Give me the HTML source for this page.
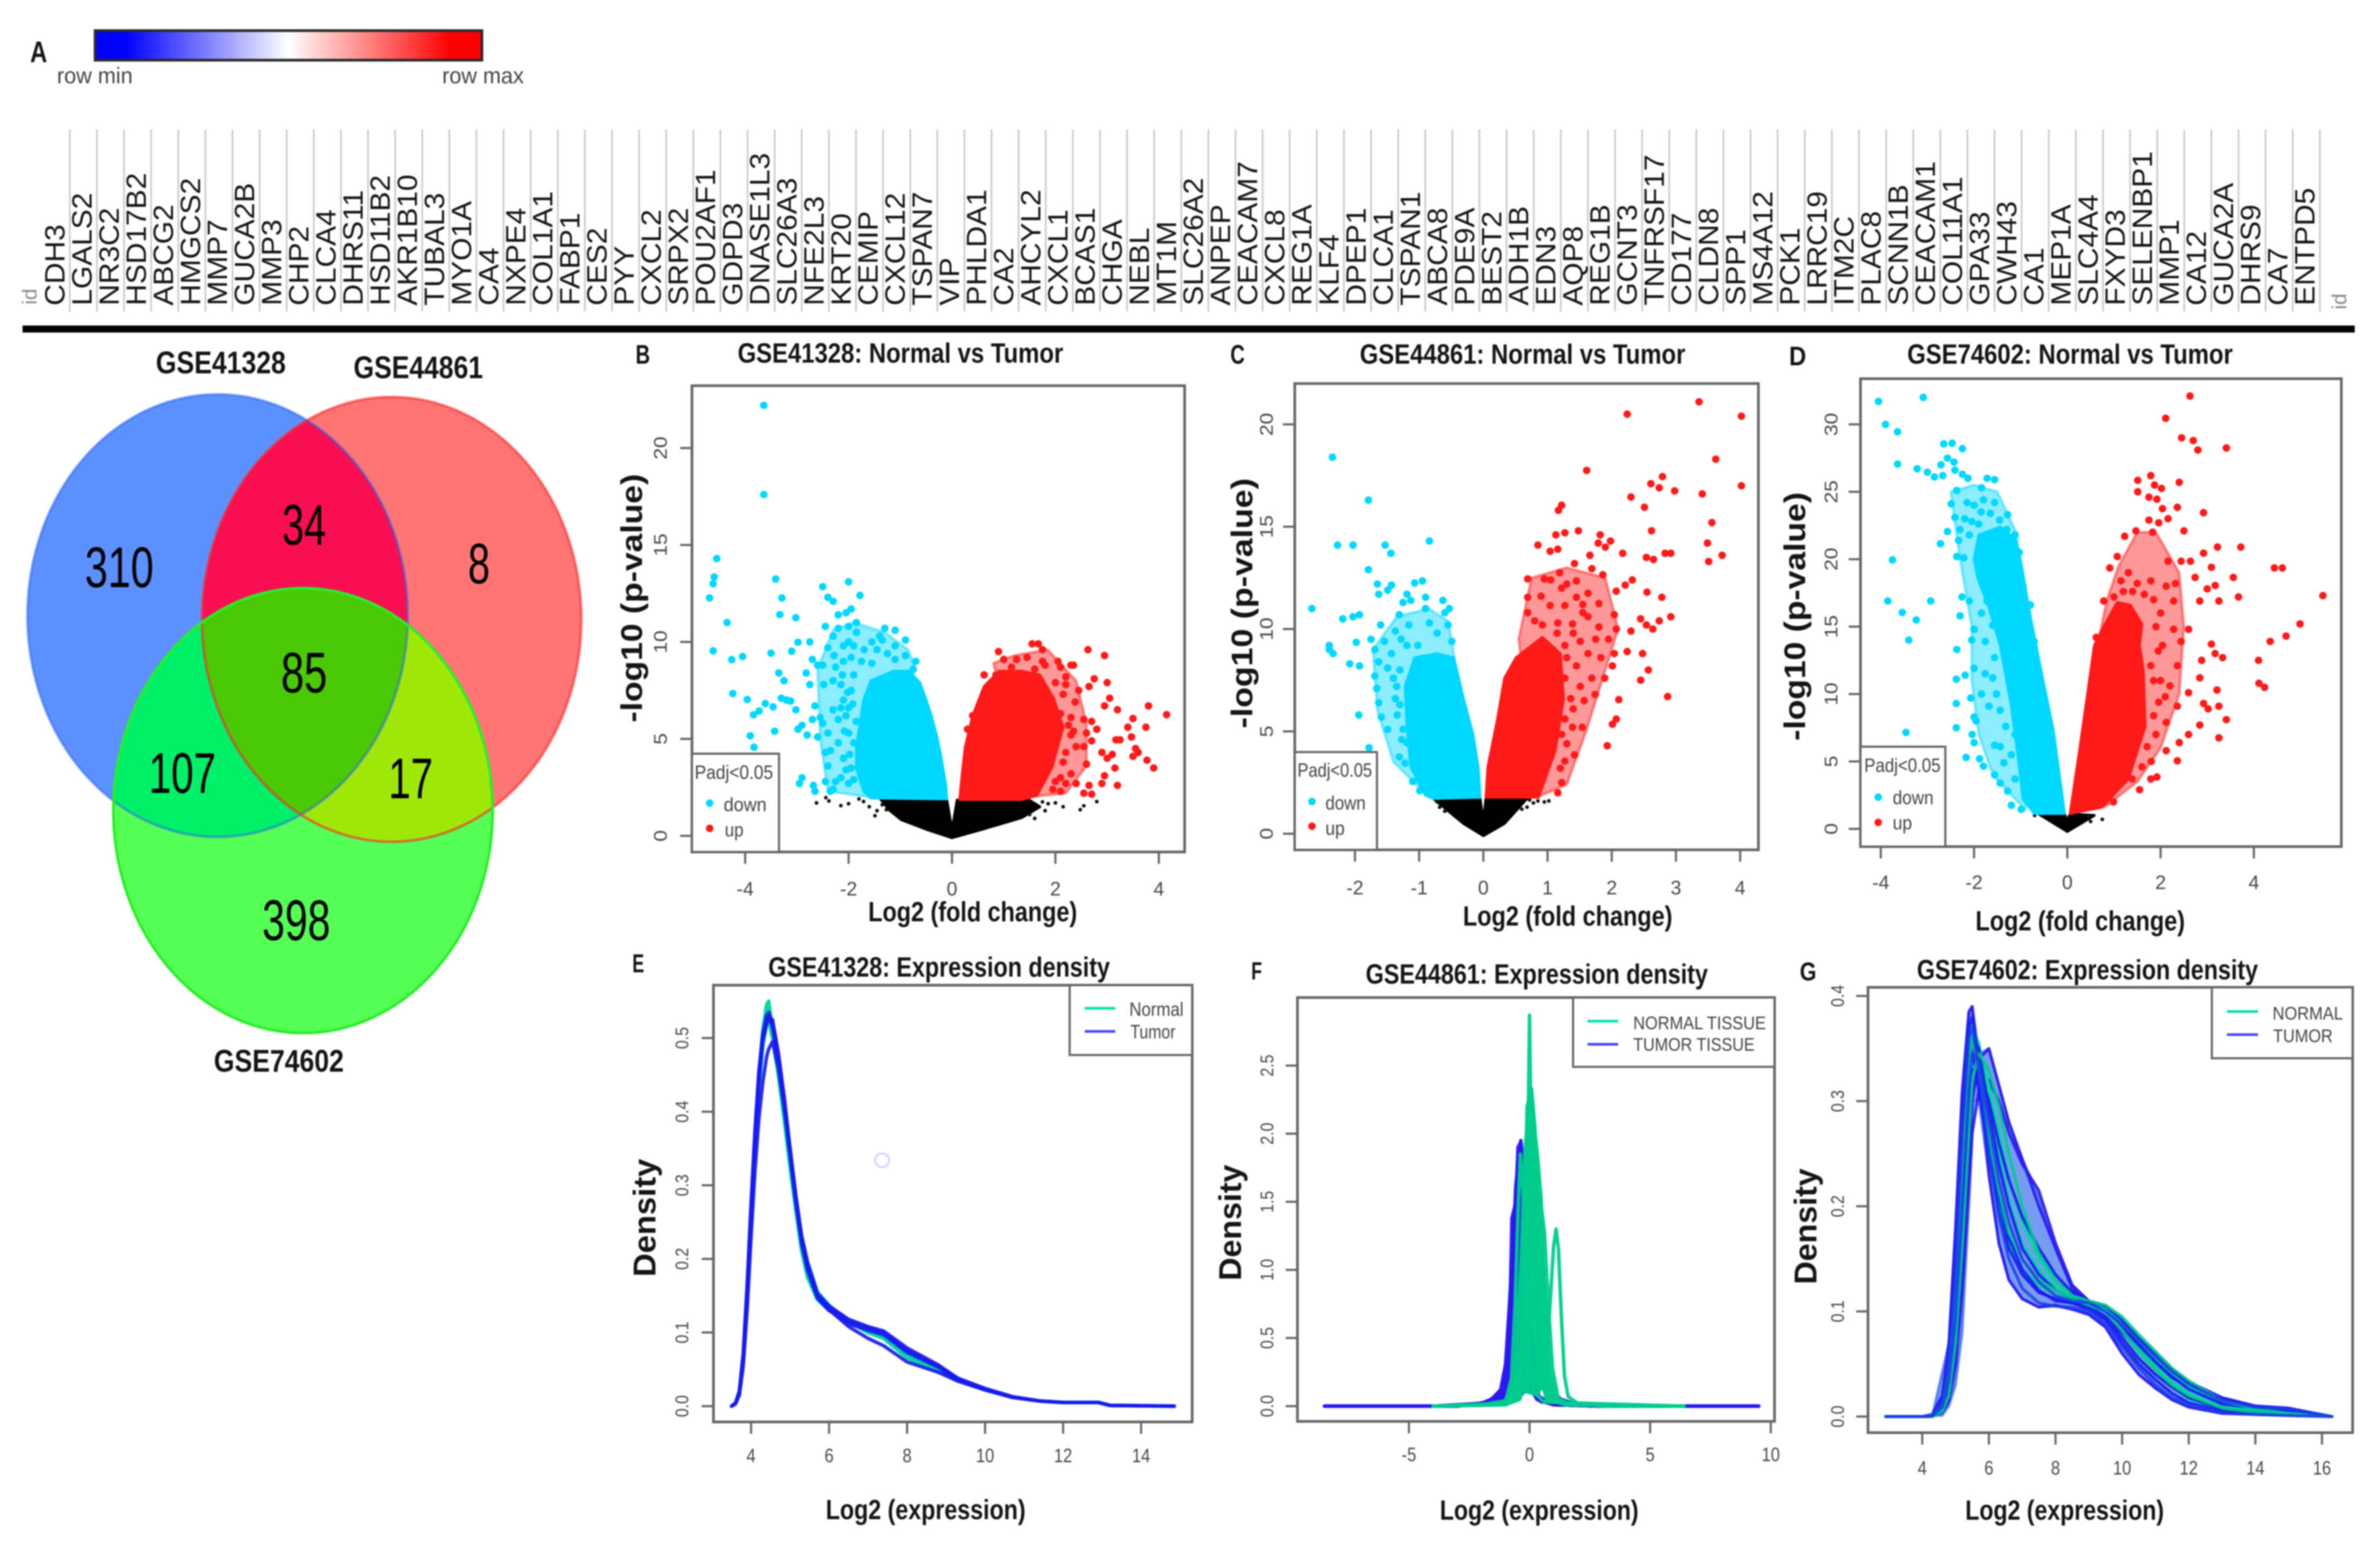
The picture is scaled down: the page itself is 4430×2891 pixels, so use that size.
<!DOCTYPE html>
<html lang="en">
<head>
<meta charset="utf-8">
<title>Differential expression figure: heatmap header, Venn, volcano and density plots</title>
<style>
html,body{margin:0;padding:0;background:#fff;width:4430px;height:2891px;overflow:hidden}
svg{display:block;filter:blur(1.3px)}
text{font-family:"Liberation Sans",sans-serif}
.b{font-weight:bold;fill:#151515}
.tl{fill:#484848;font-size:36px}
.box{fill:none;stroke:#666;stroke-width:5}
.lg{fill:#fff;stroke:#666;stroke-width:4}
</style>
</head>
<body>
<svg id="fig" xmlns="http://www.w3.org/2000/svg" width="4430" height="2891" viewBox="0 0 4430 2891">
<defs>
<linearGradient id="cbGrad" x1="0" x2="1" y1="0" y2="0">
<stop offset="0" stop-color="#0000ff"/><stop offset="0.08" stop-color="#0000ff"/><stop offset="0.5" stop-color="#ffffff"/><stop offset="0.92" stop-color="#ff0000"/><stop offset="1" stop-color="#ff0000"/>
</linearGradient>
<clipPath id="clipBlue"><ellipse cx="405" cy="1146" rx="354" ry="412"/></clipPath>
<clipPath id="clipRed"><ellipse cx="729" cy="1153" rx="353" ry="414"/></clipPath>
<clipPath id="clipGreen"><ellipse cx="564" cy="1509" rx="353" ry="414"/></clipPath>
</defs>
<rect width="4430" height="2891" fill="#fff"/>

<!-- Panel A header -->
<g>
<text class="b" x="56" y="116" font-size="56" textLength="32" lengthAdjust="spacingAndGlyphs">A</text>
<rect x="177" y="57" width="720" height="55" fill="url(#cbGrad)" stroke="#2a2a2a" stroke-width="5"/>
<text x="106" y="155" font-size="42" fill="#444" textLength="141" lengthAdjust="spacingAndGlyphs">row min</text>
<text x="823" y="155" font-size="42" fill="#444" textLength="152" lengthAdjust="spacingAndGlyphs">row max</text>
<g id="geneGrid"></g>
<g id="geneLabels"></g>
<text transform="translate(68,567) rotate(-90)" font-size="38" fill="#888">id</text>
<text transform="translate(4367,576) rotate(-90)" font-size="38" fill="#888">id</text>
<rect x="42" y="606" width="4341" height="13" fill="#000"/>
</g>

<!-- Venn -->
<g>
<ellipse cx="405" cy="1146" rx="354" ry="412" fill="#5c91ff"/>
<ellipse cx="729" cy="1153" rx="353" ry="414" fill="#ff7575"/>
<ellipse cx="564" cy="1509" rx="353" ry="414" fill="#55ff55"/>
<g clip-path="url(#clipBlue)"><ellipse cx="729" cy="1153" rx="353" ry="414" fill="#f90f52"/></g>
<g clip-path="url(#clipBlue)"><ellipse cx="564" cy="1509" rx="353" ry="414" fill="#00f06a"/></g>
<g clip-path="url(#clipRed)"><ellipse cx="564" cy="1509" rx="353" ry="414" fill="#9fe80a"/></g>
<g clip-path="url(#clipBlue)"><g clip-path="url(#clipRed)"><ellipse cx="564" cy="1509" rx="353" ry="414" fill="#4bc806"/></g></g>
<ellipse cx="405" cy="1146" rx="354" ry="412" fill="none" stroke="#2464f0" stroke-width="5" stroke-opacity=".5"/>
<ellipse cx="729" cy="1153" rx="353" ry="414" fill="none" stroke="#ff2828" stroke-width="5" stroke-opacity=".6"/>
<ellipse cx="564" cy="1509" rx="353" ry="414" fill="none" stroke="#28ee28" stroke-width="5"/>
<text x="158" y="1093" font-size="107" textLength="128" lengthAdjust="spacingAndGlyphs">310</text>
<text x="525" y="1014" font-size="107" textLength="82" lengthAdjust="spacingAndGlyphs">34</text>
<text x="871" y="1086" font-size="107" textLength="41" lengthAdjust="spacingAndGlyphs">8</text>
<text x="523" y="1289" font-size="107" textLength="86" lengthAdjust="spacingAndGlyphs">85</text>
<text x="277" y="1476" font-size="107" textLength="125" lengthAdjust="spacingAndGlyphs">107</text>
<text x="723" y="1486" font-size="107" textLength="83" lengthAdjust="spacingAndGlyphs">17</text>
<text x="488" y="1750" font-size="107" textLength="127" lengthAdjust="spacingAndGlyphs">398</text>
<text class="b" x="290" y="695" font-size="58" textLength="242" lengthAdjust="spacingAndGlyphs">GSE41328</text>
<text class="b" x="658" y="704" font-size="58" textLength="241" lengthAdjust="spacingAndGlyphs">GSE44861</text>
<text class="b" x="398" y="1995" font-size="58" textLength="242" lengthAdjust="spacingAndGlyphs">GSE74602</text>
</g>

<!-- Panel B -->
<g>
<text class="b" x="1183" y="677" font-size="50" textLength="27" lengthAdjust="spacingAndGlyphs">B</text>
<text class="b" x="1373" y="675" font-size="52" textLength="606" lengthAdjust="spacingAndGlyphs">GSE41328: Normal vs Tumor</text>
<g id="bMarks"></g>
<rect class="box" x="1288" y="718" width="917" height="868"/>
<g id="bAxes"></g>
<text class="b" x="1616" y="1715" font-size="52" textLength="389" lengthAdjust="spacingAndGlyphs">Log2 (fold change)</text>
<text class="b" transform="translate(1195,1345) rotate(-90)" font-size="56" textLength="463" lengthAdjust="spacingAndGlyphs">-log10 (p-value)</text>
<g>
<rect class="lg" x="1288" y="1403" width="162" height="183"/>
<text x="1293" y="1450" font-size="36" fill="#444" textLength="146" lengthAdjust="spacingAndGlyphs">Padj&lt;0.05</text>
<circle cx="1321" cy="1495" r="7" fill="#00d8ff"/>
<text x="1347" y="1510" font-size="36" fill="#444" textLength="80" lengthAdjust="spacingAndGlyphs">down</text>
<circle cx="1321" cy="1542" r="7" fill="#ff1a1a"/>
<text x="1349" y="1557" font-size="36" fill="#444" textLength="35" lengthAdjust="spacingAndGlyphs">up</text>
</g>
</g>

<!-- Panel C -->
<g>
<text class="b" x="2290" y="677" font-size="50" textLength="27" lengthAdjust="spacingAndGlyphs">C</text>
<text class="b" x="2531" y="677" font-size="52" textLength="606" lengthAdjust="spacingAndGlyphs">GSE44861: Normal vs Tumor</text>
<g id="cMarks"></g>
<rect class="box" x="2410" y="714" width="863" height="868"/>
<g id="cAxes"></g>
<text class="b" x="2723" y="1723" font-size="52" textLength="390" lengthAdjust="spacingAndGlyphs">Log2 (fold change)</text>
<text class="b" transform="translate(2331,1356) rotate(-90)" font-size="56" textLength="466" lengthAdjust="spacingAndGlyphs">-log10 (p-value)</text>
<g>
<rect class="lg" x="2410" y="1400" width="153" height="182"/>
<text x="2415" y="1446" font-size="36" fill="#444" textLength="139" lengthAdjust="spacingAndGlyphs">Padj&lt;0.05</text>
<circle cx="2442" cy="1492" r="7" fill="#00d8ff"/>
<text x="2467" y="1507" font-size="36" fill="#444" textLength="75" lengthAdjust="spacingAndGlyphs">down</text>
<circle cx="2442" cy="1538" r="7" fill="#ff1a1a"/>
<text x="2467" y="1554" font-size="36" fill="#444" textLength="36" lengthAdjust="spacingAndGlyphs">up</text>
</g>
</g>

<!-- Panel D -->
<g>
<text class="b" x="3330" y="680" font-size="50" textLength="32" lengthAdjust="spacingAndGlyphs">D</text>
<text class="b" x="3550" y="677" font-size="52" textLength="606" lengthAdjust="spacingAndGlyphs">GSE74602: Normal vs Tumor</text>
<g id="dMarks"></g>
<rect class="box" x="3463" y="705" width="895" height="871"/>
<g id="dAxes"></g>
<text class="b" x="3677" y="1732" font-size="52" textLength="390" lengthAdjust="spacingAndGlyphs">Log2 (fold change)</text>
<text class="b" transform="translate(3360,1379) rotate(-90)" font-size="56" textLength="463" lengthAdjust="spacingAndGlyphs">-log10 (p-value)</text>
<g>
<rect class="lg" x="3463" y="1390" width="158" height="186"/>
<text x="3470" y="1437" font-size="36" fill="#444" textLength="142" lengthAdjust="spacingAndGlyphs">Padj&lt;0.05</text>
<circle cx="3496" cy="1484" r="7" fill="#00d8ff"/>
<text x="3523" y="1497" font-size="36" fill="#444" textLength="76" lengthAdjust="spacingAndGlyphs">down</text>
<circle cx="3496" cy="1531" r="7" fill="#ff1a1a"/>
<text x="3523" y="1544" font-size="36" fill="#444" textLength="36" lengthAdjust="spacingAndGlyphs">up</text>
</g>
</g>

<!-- Panel E -->
<g>
<text class="b" x="1177" y="1810" font-size="48" textLength="22" lengthAdjust="spacingAndGlyphs">E</text>
<text class="b" x="1430" y="1818" font-size="52" textLength="636" lengthAdjust="spacingAndGlyphs">GSE41328: Expression density</text>
<g id="eMarks"></g>
<circle cx="1642" cy="2160" r="13" fill="none" stroke="#ccccff" stroke-width="3"/>
<rect class="box" x="1328" y="1834" width="891" height="813"/>
<g id="eAxes"></g>
<text class="b" x="1537" y="2828" font-size="52" textLength="372" lengthAdjust="spacingAndGlyphs">Log2 (expression)</text>
<text class="b" transform="translate(1220,2377) rotate(-90)" font-size="58" textLength="220" lengthAdjust="spacingAndGlyphs">Density</text>
<g>
<rect class="lg" x="1991" y="1834" width="228" height="130"/>
<line x1="2019" x2="2076" y1="1877" y2="1877" stroke="#00e4a8" stroke-width="5"/>
<text x="2102" y="1891" font-size="36" fill="#444" textLength="101" lengthAdjust="spacingAndGlyphs">Normal</text>
<line x1="2019" x2="2076" y1="1920" y2="1920" stroke="#4a4aff" stroke-width="5"/>
<text x="2104" y="1933" font-size="36" fill="#444" textLength="84" lengthAdjust="spacingAndGlyphs">Tumor</text>
</g>
</g>

<!-- Panel F -->
<g>
<text class="b" x="2329" y="1823" font-size="46" textLength="20" lengthAdjust="spacingAndGlyphs">F</text>
<text class="b" x="2542" y="1831" font-size="52" textLength="637" lengthAdjust="spacingAndGlyphs">GSE44861: Expression density</text>
<g id="fMarks"></g>
<rect class="box" x="2415" y="1857" width="888" height="789"/>
<g id="fAxes"></g>
<text class="b" x="2680" y="2829" font-size="52" textLength="370" lengthAdjust="spacingAndGlyphs">Log2 (expression)</text>
<text class="b" transform="translate(2310,2384) rotate(-90)" font-size="58" textLength="216" lengthAdjust="spacingAndGlyphs">Density</text>
<g>
<rect class="lg" x="2928" y="1857" width="375" height="129" fill="#fff"/>
<line x1="2955" x2="3012" y1="1901" y2="1901" stroke="#00e4a8" stroke-width="5"/>
<text x="3040" y="1916" font-size="34" fill="#444" textLength="247" lengthAdjust="spacingAndGlyphs">NORMAL TISSUE</text>
<line x1="2955" x2="3012" y1="1944" y2="1944" stroke="#4a4aff" stroke-width="5"/>
<text x="3040" y="1956" font-size="34" fill="#444" textLength="226" lengthAdjust="spacingAndGlyphs">TUMOR TISSUE</text>
</g>
</g>

<!-- Panel G -->
<g>
<text class="b" x="3350" y="1825" font-size="48" textLength="31" lengthAdjust="spacingAndGlyphs">G</text>
<text class="b" x="3568" y="1823" font-size="52" textLength="635" lengthAdjust="spacingAndGlyphs">GSE74602: Expression density</text>
<g id="gMarks"></g>
<rect class="box" x="3477" y="1838" width="902" height="829"/>
<g id="gAxes"></g>
<text class="b" x="3658" y="2829" font-size="52" textLength="370" lengthAdjust="spacingAndGlyphs">Log2 (expression)</text>
<text class="b" transform="translate(3381,2391) rotate(-90)" font-size="58" textLength="216" lengthAdjust="spacingAndGlyphs">Density</text>
<g>
<rect class="lg" x="4117" y="1838" width="262" height="132"/>
<line x1="4145" x2="4203" y1="1883" y2="1883" stroke="#00e4a8" stroke-width="5"/>
<text x="4230" y="1898" font-size="34" fill="#444" textLength="131" lengthAdjust="spacingAndGlyphs">NORMAL</text>
<line x1="4145" x2="4203" y1="1926" y2="1926" stroke="#4a4aff" stroke-width="5"/>
<text x="4231" y="1940" font-size="34" fill="#444" textLength="111" lengthAdjust="spacingAndGlyphs">TUMOR</text>
</g>
</g>
</svg>

<script>
/* ---------- Gene labels ---------- */
const geneNames = ["CDH3","LGALS2","NR3C2","HSD17B2","ABCG2","HMGCS2","MMP7","GUCA2B","MMP3","CHP2","CLCA4","DHRS11","HSD11B2","AKR1B10","TUBAL3","MYO1A","CA4","NXPE4","COL1A1","FABP1","CES2","PYY","CXCL2","SRPX2","POU2AF1","GDPD3","DNASE1L3","SLC26A3","NFE2L3","KRT20","CEMIP","CXCL12","TSPAN7","VIP","PHLDA1","CA2","AHCYL2","CXCL1","BCAS1","CHGA","NEBL","MT1M","SLC26A2","ANPEP","CEACAM7","CXCL8","REG1A","KLF4","DPEP1","CLCA1","TSPAN1","ABCA8","PDE9A","BEST2","ADH1B","EDN3","AQP8","REG1B","GCNT3","TNFRSF17","CD177","CLDN8","SPP1","MS4A12","PCK1","LRRC19","ITM2C","PLAC8","SCNN1B","CEACAM1","COL11A1","GPA33","CWH43","CA1","MEP1A","SLC4A4","FXYD3","SELENBP1","MMP1","CA12","GUCA2A","DHRS9","CA7","ENTPD5"];

/* ---------- Panel B data (log2 fold change, -log10 p) ---------- */
const bXTicks = [-4,-2,0,2,4];
const bYTicks = [0,5,10,15,20];
const bDownCloud = [[-0.1,1.9],[-0.12,2.6],[-0.22,4.2],[-0.3,5.2],[-0.4,6.2],[-0.5,7],[-0.62,7.9],[-0.84,8.5],[-1.13,8.5],[-1.57,8],[-1.71,7],[-1.79,5.6],[-1.85,4.6],[-1.85,3.5],[-1.71,2.3],[-1.57,1.95]];
const bUpCloud = [[0.146,1.87],[0.2,3.3],[0.255,4.57],[0.4,6.2],[0.62,7.7],[0.91,8.5],[1.35,8.5],[1.7,8.3],[1.97,7.07],[2.15,5.6],[1.93,3.5],[1.64,2.08],[1.35,1.87]];
const bNsCloud = [[-1.4,1.95],[-0.1,1.85],[0,0.3],[0.1,1.85],[1.4,2],[1.7,1.5],[1.35,0.94],[0.55,0.31],[0,-0.1],[-0.47,0.31],[-0.98,0.83],[-1.2,1.3]];
const bDownHalo = [[-1.6,2],[-2.4,2.3],[-2.55,5],[-2.6,8.6],[-2.3,10.6],[-1.9,11],[-1.3,10.5],[-0.85,9.6],[-0.7,8.6]];
const bUpHalo = [[1.5,2],[2.2,2.2],[2.6,3.6],[2.6,5.8],[2.4,8],[1.85,9.6],[1.2,9.3],[0.8,8.9]];
const bDownPts = [[-3.64,22.2],[-3.64,17.6],[-4.55,14.3],[-4.6,13.35],[-4.62,13],[-4.69,12.27],[-4.35,11],[-4.62,9.54],[-4.26,9.09],[-4.05,9.25],[-4.24,7.34],[-3.96,7.03],[-3.84,6.24],[-3.73,6.44],[-3.61,6.82],[-3.46,6.65],[-3.9,5.16],[-3.83,4.57],[-3.43,5.4],[-3.41,13.24],[-3.29,12.27],[-3.33,11.41],[-3.02,11.25],[-3.5,9.42],[-3.1,9.52],[-2.98,9.98],[-2.75,10],[-3.35,8.4],[-3.25,8],[-3.3,7.1],[-3.2,7],[-3.12,6.95],[-3.02,6.5],[-2.98,5.5],[-2.9,5.7],[-2.8,5.2],[-2.6,5.1],[-2.7,6],[-2.55,6.1],[-2.5,5.8],[-2.65,6.7],[-2.82,8.4],[-2.75,7.8],[-2.6,8.8],[-2.7,9.1],[-2.5,8.8],[-2.48,7.8],[-2.95,2.7],[-2.9,3],[-2.68,2.6],[-2.65,2.3],[-2.45,2.8],[-2.4,3.6],[-2.35,2.3],[-2.25,2.8],[-2.35,4.4],[-2.45,4.3],[-2.4,5.3],[-2.2,4.8],[-2.2,6],[-2.3,6.5],[-2.1,7],[-2,6.6],[-1.95,7.5],[-2.15,7.8],[-2.3,8],[-2.25,8.7],[-2.1,9],[-1.95,9.2],[-2,10],[-1.85,10.5],[-2.2,10.7],[-2.45,10.8],[-2.4,9.7],[-2.3,10.3],[-2,10.8],[-1.85,11],[-2.05,11.5],[-2.2,11.4],[-2,13.1],[-1.78,12.4],[-2.5,12.85],[-2.4,12.3],[-2.3,12.1],[-1.95,11.7],[-2.1,4],[-2.05,3.4],[-2.15,3],[-2,2.7],[-2.3,2.4],[-1.9,2.9],[-1.9,4.8],[-2,5.3],[-1.85,5.9],[-1.9,8.3],[-1.75,9],[-1.7,9.6],[-1.45,9.6],[-1.55,10],[-1.35,10.1],[-1.3,10.7],[-1.4,10.3],[-1.1,10.6],[-0.9,10.1],[-1.1,9.8],[-1.25,9.4],[-0.9,9.3],[-0.7,9],[-1.55,8.9],[-1.1,9.1],[-0.75,8.6],[-2.05,6.2],[-1.92,6.8],[-1.98,4.2],[-1.95,3.5],[-2.08,5.4],[-2.15,6.6],[-2.02,7.4],[-1.9,9.8],[-2.1,9.8],[-2.28,9.3],[-2.12,8.3]];
const bUpPts = [[4.15,6.25],[3.8,6.7],[3.5,6.05],[3.75,5.6],[3.4,5.6],[3.47,5.1],[3.17,4.95],[3.25,4.95],[3.55,4.5],[3.6,4.3],[3.5,4.1],[3.77,3.9],[3.9,3.5],[3.2,6.5],[3,7.9],[3.05,7.1],[2.95,6.7],[2.75,8.1],[2.65,7.7],[2.95,9.3],[2.63,9.6],[2.35,8.8],[2.2,8.2],[2.45,7.5],[2.38,6.9],[2.55,6],[2.7,5.9],[2.8,5.5],[2.6,5.3],[2.7,4.9],[2.9,4.3],[3,4],[3.1,4.2],[3.15,3.5],[2.95,3.1],[2.9,2.7],[3.2,2.6],[2.65,2.6],[2.55,2.2],[2.7,2.15],[2.4,2.7],[2.3,3.2],[2.6,3.7],[2.4,4.6],[2.55,4.6],[2.3,5.2],[2.2,4.3],[2.15,3.8],[2.1,2.3],[2.3,6.1],[2.1,6.3],[2.15,7.3],[2,7.9],[2.2,7.8],[2.1,8.7],[2.3,8.8],[2.05,9],[1.8,8.8],[1.75,9.6],[1.55,9.9],[1.67,9.9],[1.75,9],[1.45,9.2],[1.25,9.1],[1,9.1],[0.9,9.5],[0.62,8.3],[0.85,8.3],[1.15,8.7],[1.6,8.6],[0.4,6.2],[0.3,5.5],[2.25,5.7],[2.35,5.4],[2.1,3],[2,2.8],[2.2,2.7],[1.95,2.4]];
const bNsPts = [[-2.62,1.7],[-2.44,1.97],[-2.38,1.8],[-2.15,1.56],[-2,1.66],[-1.8,1.9],[-1.71,1.77],[-1.6,1.5],[-1.49,1.04],[-1.45,1.3],[-1.27,1.35],[-1.35,1.6],[1.5,1.1],[1.6,0.9],[1.8,1.3],[1.86,1.66],[1.75,1.75],[2,1.7],[2.15,1.5],[2.48,1.35],[2.8,1.77],[2.55,1.55]];

/* ---------- Panel C data ---------- */
const cXTicks = [-2,-1,0,1,2,3,4];
const cYTicks = [0,5,10,15,20];
const cDownCloud = [[-0.05,1.78],[-0.08,3.26],[-0.16,4.84],[-0.31,6.6],[-0.46,8.6],[-0.72,8.8],[-1.07,8.6],[-1.22,7.2],[-1.19,5.2],[-1.13,3.26],[-0.9,1.88],[-0.78,1.72]];
const cUpCloud = [[0.04,1.78],[0.07,3.26],[0.22,5.6],[0.33,7.6],[0.51,8.6],[0.92,9.6],[1.2,8.8],[1.25,6.6],[1.12,4.05],[0.86,1.78]];
const cNsCloud = [[-0.78,1.72],[-0.05,1.72],[0,0.6],[0.04,1.72],[0.68,1.72],[0.33,0.5],[0,-0.1],[-0.31,0.5]];
const cDownHalo = [[-0.85,1.8],[-1.4,3.5],[-1.65,6],[-1.72,9],[-1.35,10.6],[-0.85,11],[-0.55,10.4],[-0.45,8.6]];
const cUpHalo = [[0.85,1.8],[1.3,2.4],[1.6,5],[1.9,8],[2.1,10],[1.9,12.5],[1.3,13],[0.75,12.5],[0.55,9.5]];
const cDownPts = [[-2.35,18.4],[-1.79,16.3],[-2.27,14.1],[-2.03,14.1],[-1.53,14.1],[-1.44,13.7],[-0.84,14.3],[-1.79,12.9],[-2.67,11],[-2.19,10.5],[-2.03,10.6],[-1.93,10.7],[-2.4,9.2],[-2.4,9],[-2.34,8.8],[-2.08,8.3],[-1.98,9.35],[-1.93,8.2],[-1.94,5.8],[-1.78,4.2],[-1.65,12.2],[-1.63,11.7],[-1.49,11.9],[-1.43,12.15],[-1.19,11.7],[-1.07,12.25],[-0.95,12.35],[-0.9,11.55],[-0.63,11.4],[-0.53,11],[-0.6,10.8],[-0.55,10.2],[-0.9,11],[-1.25,11.3],[-1.13,11.4],[-1.31,10.7],[-1.16,10.2],[-0.84,10.3],[-1.6,10.2],[-1.75,9.5],[-1.69,9],[-1.54,9.4],[-1.37,9.9],[-1.63,8.4],[-1.49,8.1],[-1.43,8.8],[-1.69,7.7],[-1.66,7.1],[-1.63,6.4],[-1.59,5.7],[-1.49,5.1],[-1.37,6.6],[-1.34,5.8],[-1.25,5.1],[-1.19,4.45],[-1.31,3.75],[-1.22,3.45],[-1.1,2.55],[-0.99,2.1],[-1.19,9.2],[-1.02,9.2],[-0.72,9.8],[-0.49,9.4],[-1.3,8],[-1.35,7.2],[-1.28,9.5],[-1.4,7.6],[-1.3,6.3],[-1.27,4.6]];
const cUpPts = [[2.24,20.5],[3.36,21.1],[4.02,20.4],[3.62,18.3],[1.61,17.75],[2.79,17.45],[2.61,17.1],[2.74,16.9],[2.98,16.75],[4.02,17],[3.41,16.6],[2.3,16.45],[2.51,15.95],[3.56,15.2],[2.62,14.8],[3.49,14.2],[3.72,13.6],[3.51,13.3],[2.54,13.5],[2.65,13.4],[2.83,13.7],[2.92,13.7],[2.17,13.7],[1.22,16.05],[1.17,15.8],[1.48,14.8],[1.27,14.7],[1.13,14.6],[0.85,14.1],[1.04,13.8],[1.16,13.9],[1.82,14.6],[1.79,14.2],[1.98,14.3],[1.9,14],[1.66,13.6],[1.42,13.2],[2.32,12.4],[2.55,11.8],[2.78,11.55],[2.92,10.6],[2.45,10.5],[2.54,10.2],[2.64,10],[2.74,10.4],[2.3,9.9],[2.04,10.7],[2.48,8.8],[2.57,8],[2.45,7.5],[2.87,6.7],[2.11,6.55],[2.07,5.6],[2.01,5.35],[1.93,4.3],[2.24,8.9],[2.04,8.8],[2.01,8.2],[1.89,7.6],[1.74,6.8],[1.54,5.2],[1.42,3.85],[1.27,3.55],[1.16,2],[1.22,2.5],[0.69,12.45],[0.69,11.55],[0.95,12.45],[1.19,12.75],[1.22,12],[1.45,12.35],[1.69,12.95],[1.86,12.65],[1.63,11.75],[1.45,11.55],[1.27,11.15],[1.04,11.15],[0.8,10.4],[0.69,10.8],[0.92,10.2],[1.16,10.3],[1.39,10.25],[1.63,10.6],[1.8,11.25],[2.07,11.85],[2.21,12.15],[2.07,10],[1.8,10.1],[1.51,9.4],[1.27,9.2],[1.63,8.8],[1.83,8.6],[1.45,8.2],[1.27,7.6],[1.51,7.2],[1.69,7.6],[1.36,6.6],[1.57,6.5],[1.27,5.6],[1.22,4.85],[1.39,5.2],[1.3,4.4],[1.2,3.2],[1.3,8.6],[1.4,9.8],[1.15,9.8],[1.15,8],[1.2,7],[1.4,6.1],[1.75,9.5],[1.55,10.8],[1.3,12.2],[1.05,12.4],[0.9,11.6],[1.55,11.2],[1.95,9.5]];
const cNsPts = [[-0.72,1.55],[-0.68,1.3],[-0.6,1.1],[0.72,1.65],[0.78,1.5],[0.85,1.6],[0.68,1.3],[0.6,1.2],[0.95,1.55],[1.02,1.6]];

/* ---------- Panel D data ---------- */
const dXTicks = [-4,-2,0,2,4];
const dYTicks = [0,5,10,15,20,25,30];
const dDownCloud = [[-0.06,1.14],[-0.3,7.3],[-0.55,11.5],[-0.79,15.7],[-0.99,19.6],[-1.11,21.4],[-1.44,22.4],[-1.9,21.8],[-2,20],[-1.92,18.6],[-1.68,16.4],[-1.44,13.6],[-1.2,9.1],[-1.03,4.6],[-0.95,2.2],[-0.71,1.14]];
const dUpCloud = [[0.06,1.14],[0.26,5.8],[0.42,9.7],[0.58,13.6],[0.78,15],[1.07,16.8],[1.35,16.6],[1.6,15.2],[1.55,13.6],[1.63,11.8],[1.67,7.6],[1.31,3.7],[0.74,1.6]];
const dNsCloud = [[-0.63,1.14],[-0.06,1.1],[0,0.6],[0.06,1.1],[0.58,1],[0,-0.2]];
const dDownHalo = [[-0.9,1.4],[-1.6,4],[-1.9,7],[-2.05,11],[-2.05,15],[-2.3,20],[-2.5,25],[-2,25.5],[-1.5,25],[-1.1,22],[-0.95,19],[-0.8,15.7],[-0.6,12]];
const dUpHalo = [[0.8,1.6],[1.5,3.5],[2,6],[2.4,10],[2.5,15],[2.4,19],[1.9,22],[1.5,22],[1.1,19.5],[0.85,17],[0.7,14.5]];
const dDownPts = [[-4.05,31.7],[-3.09,32],[-3.9,30],[-3.64,29.45],[-3.64,27.05],[-3.22,26.7],[-3,26.45],[-2.85,26.1],[-2.67,26.2],[-2.71,27],[-2.65,28.55],[-2.47,28.6],[-2.57,27.5],[-2.25,28.2],[-2.43,27.2],[-2.41,26.6],[-2.25,26.3],[-2.13,26],[-1.72,26],[-1.56,25.9],[-2.37,25.1],[-1.84,25.3],[-2.49,24.1],[-2.41,23.1],[-2.57,22.05],[-2.72,21.15],[-2.33,21.4],[-2.37,20.2],[-2.22,20.1],[-3.75,19.95],[-3.85,16.9],[-2.93,16.9],[-3.54,16.05],[-3.24,15.5],[-3.4,14],[-3.46,7.15],[-2.26,17.2],[-2.1,16.9],[-2.3,15.8],[-2,14.8],[-2.05,14],[-2.37,13.3],[-2,11.9],[-2.19,11.4],[-2.38,11.1],[-2.38,9.3],[-2.07,9.7],[-1.84,10],[-2,8.3],[-1.96,8],[-2.38,7.5],[-2.04,7],[-2,6.4],[-2.17,5.3],[-1.88,5.2],[-1.8,4.65],[-1.56,6.2],[-1.56,4],[-1.44,3.4],[-1.28,2.8],[-1.2,1.75],[-0.99,1.45],[-1.76,11.5],[-1.6,11.2],[-1.52,10],[-1.68,9.1],[-1.44,8.8],[-1.32,7.6],[-1.44,6.1],[-1.2,5.5],[-1.12,7],[-1.76,13.9],[-1.6,15.1],[-1.84,16],[-1.72,16.9],[-1.44,17.2],[-1.56,12.7],[-1.28,12.7],[-1.36,4.9],[-1.12,3.7],[-1.8,24.4],[-1.56,24.2],[-1.28,23.3],[-1.12,21.8],[-1.03,20.5],[-0.95,18],[-0.79,16.6],[-0.71,13.9],[-2.15,24.2],[-2,24],[-1.85,23.5],[-1.65,23.4],[-1.45,22.9],[-2.2,23],[-2.05,22.8],[-1.9,22.6],[-2.3,22.2],[-2.1,21.8],[-1.3,22.2]];
const dUpPts = [[2.63,32.1],[2.11,30.45],[2.45,29],[2.7,28.8],[2.8,28.1],[3.41,28.25],[1.51,25.85],[1.79,26.2],[2.4,25.7],[1.87,25.5],[2.02,25.25],[1.51,25],[1.75,24.6],[1.92,24.45],[2.36,23.85],[2.04,23.75],[2.92,23.45],[1.75,22.9],[2.16,23],[1.96,22.7],[2.5,22.1],[1.83,22],[1.47,22.1],[1.23,21.7],[3.22,20.9],[3.72,20.9],[2.92,20.45],[1.07,20.2],[2.16,19.85],[2.64,19.85],[2.44,19.85],[3.09,19.4],[4.44,19.35],[4.61,19.35],[0.91,19.35],[3.56,18.65],[2.74,18.65],[2.32,18.2],[3.17,18.05],[3,17.8],[3.67,17.2],[5.48,17.3],[3.25,16.9],[2.84,16.9],[2.28,16.9],[4.99,15.2],[4.69,14.3],[4.35,13.9],[3.09,13.7],[4.1,12.5],[3.17,13],[3.33,12.7],[2.88,12.5],[4.11,10.8],[4.23,10.5],[3.21,10.3],[2.84,11.2],[2.6,10.1],[2.92,9.3],[3.25,9.1],[3.02,8.9],[3.41,8.1],[2.84,7.7],[3.25,6.75],[2.6,7],[2.36,5.05],[2.4,6.4],[1.92,3.85],[1.79,3.7],[2.12,5.8],[2.12,7.9],[2.36,9.1],[2.2,10.6],[2.36,12.1],[2.44,13.9],[2.28,14.8],[2.6,14.8],[2.04,13.6],[1.79,12.1],[1.96,9.4],[1.71,6.1],[1.39,3.7],[0.99,2],[2.12,18],[2,16],[1.79,18.4],[1.31,19],[1.15,18.4],[0.78,16.9],[0.62,14.2],[1.5,18.2],[1.65,17.4],[1.85,17],[1.4,17.6],[1.2,17.6],[1,17.2],[1.9,15],[1.95,13.2],[1.85,11],[2,11],[2.1,9.8],[1.85,8.4],[1.9,7],[1.8,5],[1.55,2.9],[1.6,4.6]];
const dNsPts = [[0.75,0.7],[0.5,0.55],[0.45,0.9],[-0.55,1.2],[-0.7,1]];

/* ---------- Panel E data (shared x grid, one array per sample) ---------- */
const eXTicks = [4,6,8,10,12,14];
const eYTicks = [0,0.1,0.2,0.3,0.4,0.5];
const eYLabels = ["0.0","0.1","0.2","0.3","0.4","0.5"];
const eX = [3.5,3.6,3.7,3.8,3.9,4,4.1,4.2,4.3,4.4,4.45,4.55,4.7,4.85,5,5.15,5.3,5.45,5.7,6,6.5,7,7.4,8,8.8,9.3,10,10.7,11.4,12,12.9,13.2,14.85];
const eNormalA = [0,0.004,0.02,0.07,0.16,0.27,0.37,0.45,0.51,0.545,0.55,0.51,0.46,0.405,0.34,0.28,0.23,0.195,0.155,0.137,0.115,0.1,0.092,0.066,0.047,0.035,0.022,0.012,0.007,0.005,0.005,0.001,0];
const eNormalB = [0,0.004,0.018,0.065,0.15,0.25,0.35,0.43,0.49,0.52,0.525,0.5,0.45,0.39,0.325,0.265,0.21,0.175,0.145,0.13,0.113,0.103,0.095,0.07,0.05,0.036,0.023,0.012,0.007,0.005,0.005,0.001,0];
const eTumorA = [0,0.004,0.02,0.072,0.165,0.275,0.375,0.455,0.505,0.53,0.53,0.515,0.47,0.41,0.345,0.28,0.225,0.19,0.15,0.133,0.116,0.106,0.1,0.076,0.054,0.037,0.023,0.012,0.007,0.005,0.005,0.001,0];
const eTumorB = [0,0.003,0.015,0.055,0.13,0.23,0.32,0.39,0.44,0.475,0.485,0.495,0.46,0.405,0.34,0.275,0.22,0.185,0.148,0.131,0.108,0.092,0.082,0.06,0.046,0.034,0.022,0.012,0.007,0.005,0.005,0.001,0];
const eTumorC = [0,0.004,0.02,0.07,0.16,0.265,0.365,0.445,0.5,0.53,0.535,0.52,0.475,0.415,0.35,0.285,0.23,0.195,0.153,0.136,0.118,0.108,0.102,0.079,0.056,0.038,0.024,0.013,0.007,0.005,0.005,0.001,0];
const eTumorD = [0,0.004,0.019,0.068,0.155,0.26,0.36,0.44,0.495,0.52,0.525,0.525,0.48,0.42,0.35,0.285,0.225,0.185,0.147,0.13,0.112,0.103,0.097,0.073,0.053,0.036,0.023,0.012,0.007,0.005,0.005,0.001,0];

/* ---------- Panel F data ([expression, density] per sample) ---------- */
const fXTicks = [-5,0,5,10];
const fYTicks = [0,0.5,1,1.5,2,2.5];
const fYLabels = ["0.0","0.5","1.0","1.5","2.0","2.5"];
const fTumorMass = [[-1.3,0.05],[-0.95,0.2],[-0.82,0.75],[-0.75,1.38],[-0.58,1.5],[-0.5,1.9],[-0.35,1.95],[-0.1,1],[0.05,0.15],[-0.5,0.05]];
const fNormalMass = [[-0.45,0.12],[-0.25,0.5],[-0.17,1.7],[-0.12,2.2],[0.08,2.33],[0.22,2.05],[0.34,1.85],[0.5,1.52],[0.62,0.9],[0.75,0.2],[0.3,0.08]];
const fTumorA = [[-8.5,0],[-3,0],[-1.6,0.03],[-1.15,0.13],[-0.95,0.35],[-0.8,0.85],[-0.68,1.25],[-0.58,1.4],[-0.45,1.3],[-0.3,0.9],[-0.15,0.42],[0,0.15],[0.3,0.05],[1,0.01],[3,0],[9.5,0]];
const fTumorB = [[-8.5,0],[-3,0],[-1.5,0.03],[-1.05,0.13],[-0.85,0.4],[-0.7,1.05],[-0.58,1.6],[-0.47,1.8],[-0.35,1.65],[-0.2,1],[-0.05,0.4],[0.2,0.08],[1,0.01],[3,0],[9.5,0]];
const fTumorC = [[-8.5,0],[-3,0],[-1.4,0.03],[-0.95,0.13],[-0.75,0.45],[-0.6,1.15],[-0.48,1.75],[-0.36,1.95],[-0.25,1.75],[-0.1,1.05],[0.05,0.4],[0.3,0.08],[1,0.01],[3,0],[9.5,0]];
const fTumorD = [[-8.5,0],[-3,0],[-1.3,0.03],[-0.85,0.13],[-0.65,0.45],[-0.5,1.05],[-0.38,1.55],[-0.27,1.72],[-0.15,1.5],[0,0.85],[0.15,0.3],[0.4,0.06],[1,0.01],[3,0],[9.5,0]];
const fTumorE = [[-8.5,0],[-3,0],[-1.7,0.03],[-1.2,0.12],[-1,0.3],[-0.85,0.7],[-0.72,1.03],[-0.6,1.12],[-0.48,1],[-0.32,0.65],[-0.15,0.3],[0.05,0.12],[0.4,0.04],[1,0.01],[3,0],[9.5,0]];
const fTumorF = [[-8.5,0],[-3,0],[-1.55,0.03],[-1.1,0.14],[-0.88,0.4],[-0.74,0.95],[-0.62,1.42],[-0.52,1.55],[-0.4,1.42],[-0.25,0.95],[-0.1,0.42],[0.1,0.12],[0.5,0.03],[3,0],[9.5,0]];
const fTumorG = [[-8.5,0],[-4,0],[-2,0.02],[-1.2,0.08],[-0.6,0.22],[-0.3,0.36],[-0.1,0.5],[0,0.56],[0.1,0.5],[0.35,0.3],[0.7,0.15],[1.2,0.05],[2,0.01],[4,0],[9.5,0]];
const fTumorH = [[-8.5,0],[-4,0],[-2,0.02],[-1.2,0.07],[-0.6,0.17],[-0.3,0.27],[-0.05,0.34],[0.1,0.32],[0.4,0.24],[0.8,0.13],[1.3,0.05],[2,0.01],[4,0],[9.5,0]];
const fNormalA = [[-4,0],[-1.5,0.01],[-0.7,0.05],[-0.35,0.3],[-0.15,1.1],[-0.05,2.2],[0,2.87],[0.05,2.2],[0.15,1.1],[0.35,0.3],[0.7,0.05],[1.5,0.01],[6.4,0]];
const fNormalB = [[-4,0],[-1.5,0.01],[-0.8,0.04],[-0.5,0.25],[-0.25,1.1],[-0.08,2.05],[0.08,2.33],[0.22,2.05],[0.4,1.1],[0.62,0.3],[0.9,0.06],[1.5,0.01],[6.4,0]];
const fNormalC = [[-4,0],[-1.3,0.01],[-0.85,0.05],[-0.6,0.3],[-0.35,1.1],[-0.18,1.9],[-0.03,2.2],[0.1,1.95],[0.28,1.05],[0.5,0.3],[0.8,0.05],[1.5,0.01],[6.4,0]];
const fNormalD = [[-4,0],[-1.2,0.01],[-0.7,0.05],[-0.4,0.28],[-0.15,1],[0.02,1.75],[0.15,2.05],[0.3,1.75],[0.48,1],[0.7,0.3],[1,0.05],[1.6,0.01],[6.4,0]];
const fNormalE = [[-4,0],[-1.1,0.01],[-0.6,0.05],[-0.3,0.28],[-0.05,0.95],[0.12,1.6],[0.26,1.85],[0.42,1.55],[0.6,0.9],[0.82,0.28],[1.1,0.05],[1.7,0.01],[6.4,0]];
const fNormalF = [[-4,0],[-1,0.01],[-0.4,0.05],[-0.1,0.25],[0.12,0.75],[0.3,1.25],[0.46,1.5],[0.62,1.28],[0.78,0.75],[0.95,0.28],[1.2,0.05],[1.8,0.01],[6.4,0]];
const fNormalG = [[-4,0],[-1,0.01],[-0.6,0.04],[-0.2,0.12],[0.1,0.17],[0.35,0.2],[0.55,0.22],[0.7,0.35],[0.85,0.75],[1,1.18],[1.1,1.3],[1.2,1.15],[1.32,0.65],[1.45,0.22],[1.6,0.07],[2,0.02],[3,0],[6.4,0]];
const fNormalH = [[-4,0],[-2,0.01],[-1,0.04],[-0.5,0.1],[-0.1,0.17],[0.15,0.25],[0.3,0.23],[0.55,0.13],[0.9,0.05],[1.5,0.01],[6.4,0]];
const fNormalI = [[-4,0],[-1.5,0.01],[-1,0.03],[-0.75,0.2],[-0.6,0.75],[-0.48,1.4],[-0.38,1.85],[-0.28,1.6],[-0.15,0.95],[0,0.38],[0.2,0.1],[0.6,0.03],[6.4,0]];
const fNormalJ = [[-4,0],[-1,0.02],[-0.55,0.06],[-0.2,0.35],[0.02,1],[0.16,1.6],[0.3,1.9],[0.45,1.4],[0.62,0.72],[0.8,0.22],[1.1,0.05],[1.7,0.01],[6.4,0]];

/* ---------- Panel G data (shared x grid, one array per sample) ---------- */
const gXTicks = [4,6,8,10,12,14,16];
const gYTicks = [0,0.1,0.2,0.3,0.4];
const gYLabels = ["0.0","0.1","0.2","0.3","0.4"];
const gX = [2.9,4,4.3,4.6,4.8,5,5.2,5.4,5.5,5.7,6,6.3,6.6,7,7.5,8,8.5,9,9.5,10,10.5,11,11.5,12,13,14,15,16.3];
const gBand = [[4.3,0.001],[4.8,0.07],[5,0.18],[5.2,0.31],[5.4,0.385],[5.5,0.39],[5.7,0.345],[6,0.35],[6.3,0.315],[6.6,0.28],[7,0.245],[7.5,0.21],[8,0.16],[8.5,0.125],[9,0.11],[9.5,0.105],[10,0.092],[10.5,0.075],[11,0.06],[11.5,0.045],[12,0.033],[13,0.018],[14,0.01],[15,0.008],[16,0.001],[14,0.002],[13,0.003],[12,0.009],[11.5,0.016],[11,0.027],[10.5,0.04],[10,0.06],[9.5,0.085],[9,0.097],[8.5,0.102],[8,0.105],[7.5,0.104],[7,0.112],[6.6,0.13],[6.3,0.165],[6,0.23],[5.7,0.3],[5.55,0.3],[5.4,0.2],[5.2,0.08],[5,0.03],[4.8,0.01],[4.6,0.001]];
const gTumorA = [0,0,0.002,0.02,0.07,0.18,0.31,0.385,0.39,0.33,0.23,0.165,0.13,0.112,0.104,0.106,0.102,0.097,0.085,0.06,0.04,0.027,0.016,0.009,0.003,0.002,0.001,0];
const gTumorB = [0,0,0,0.005,0.02,0.06,0.14,0.25,0.3,0.34,0.35,0.315,0.28,0.245,0.2,0.16,0.122,0.105,0.095,0.08,0.065,0.05,0.037,0.028,0.013,0.008,0.005,0];
const gTumorC = [0,0,0,0.004,0.015,0.05,0.12,0.22,0.27,0.31,0.32,0.3,0.27,0.24,0.215,0.165,0.125,0.11,0.1,0.085,0.07,0.055,0.042,0.03,0.016,0.01,0.007,0];
const gTumorD = [0,0,0.001,0.012,0.05,0.13,0.26,0.34,0.35,0.31,0.25,0.195,0.16,0.135,0.118,0.112,0.108,0.105,0.095,0.075,0.055,0.04,0.028,0.018,0.007,0.004,0.002,0];
const gTumorE = [0,0,0.001,0.015,0.055,0.15,0.28,0.37,0.38,0.34,0.27,0.21,0.17,0.14,0.12,0.11,0.108,0.102,0.092,0.07,0.05,0.035,0.022,0.013,0.005,0.003,0.001,0];
const gTumorF = [0,0,0.001,0.01,0.04,0.11,0.22,0.33,0.36,0.35,0.29,0.24,0.2,0.16,0.135,0.12,0.112,0.108,0.1,0.085,0.068,0.052,0.038,0.026,0.012,0.008,0.006,0];
const gTumorG = [0,0,0,0.006,0.025,0.08,0.18,0.29,0.33,0.33,0.3,0.26,0.225,0.19,0.16,0.135,0.118,0.11,0.105,0.092,0.075,0.06,0.045,0.033,0.018,0.01,0.008,0];
const gTumorH = [0,0,0.0005,0.009,0.035,0.095,0.2,0.31,0.345,0.34,0.28,0.225,0.185,0.15,0.128,0.115,0.11,0.108,0.1,0.088,0.072,0.057,0.043,0.031,0.015,0.009,0.007,0];
const gTumorI = [0,0,0.001,0.013,0.05,0.135,0.27,0.36,0.37,0.33,0.25,0.19,0.15,0.122,0.108,0.105,0.104,0.1,0.088,0.066,0.046,0.03,0.018,0.011,0.004,0.002,0.001,0];
const gNormalA = [0,0,0.001,0.012,0.045,0.12,0.24,0.35,0.37,0.355,0.3,0.25,0.205,0.165,0.14,0.122,0.112,0.108,0.102,0.085,0.065,0.048,0.033,0.022,0.009,0.005,0.003,0];
const gNormalB = [0,0,0.0005,0.008,0.035,0.1,0.2,0.31,0.35,0.35,0.315,0.27,0.225,0.185,0.15,0.128,0.113,0.11,0.105,0.09,0.072,0.055,0.04,0.028,0.013,0.006,0.003,0];
const gNormalC = [0,0,0.001,0.014,0.05,0.13,0.26,0.36,0.375,0.34,0.26,0.2,0.165,0.14,0.125,0.115,0.11,0.104,0.095,0.075,0.056,0.04,0.028,0.017,0.007,0.003,0.002,0];
const gNormalD = [0,0,0,0.005,0.02,0.07,0.16,0.27,0.32,0.345,0.33,0.295,0.25,0.2,0.155,0.13,0.115,0.11,0.106,0.095,0.078,0.062,0.046,0.034,0.015,0.007,0.003,0];
const gNormalE = [0,0,0.001,0.01,0.04,0.11,0.23,0.33,0.36,0.33,0.27,0.215,0.175,0.15,0.13,0.12,0.112,0.106,0.1,0.082,0.062,0.045,0.03,0.02,0.008,0.004,0.002,0];

/* ---------- Drawing helpers ---------- */
const NS = "http://www.w3.org/2000/svg";
function add(parent, tag, attrs) {
  const el = document.createElementNS(NS, tag);
  for (const k in attrs) el.setAttribute(k, attrs[k]);
  parent.appendChild(el);
  return el;
}
function linear(v0, p0, k) { return v => p0 + (v - v0) * k; }
const G = id => document.getElementById(id);
function tickWidth(s, w) { return (String(s).startsWith("-") ? String(s).length - 1 : String(s).length) * w + (String(s).startsWith("-") ? w * 0.6 : 0); }

function drawAxes(g, xs, ys, box, xTicks, yTicks, yLabels, xLabelBase, yLabelBase, xCharW, yLabelLen) {
  xTicks.forEach(t => {
    const tick = add(g, "line", {x1: xs(t), x2: xs(t), y1: box.bottom, y2: box.bottom + 22, stroke: "#666", "stroke-width": 4});
    
    
    const lab = add(g, "text", {x: xs(t), y: xLabelBase, "text-anchor": "middle", class: "tl", textLength: tickWidth(t, xCharW), lengthAdjust: "spacingAndGlyphs"});
    lab.textContent = String(t);
    
    
  });
  yTicks.forEach((t, i) => {
    const tick = add(g, "line", {x1: box.left - 22, x2: box.left, y1: ys(t), y2: ys(t), stroke: "#666", "stroke-width": 4});
    
    
    const s = yLabels ? yLabels[i] : String(t);
    const lab = add(g, "text", {transform: "translate(" + yLabelBase + "," + ys(t) + ") rotate(-90)", "text-anchor": "middle", class: "tl", style: "font-size:34px", textLength: yLabelLen(s), lengthAdjust: "spacingAndGlyphs"});
    lab.textContent = s;
    
    
  });
}

function drawCloud(g, pts, xs, ys, color, opacity, name) {
  const p = add(g, "polygon", {points: pts.map(d => xs(d[0]).toFixed(1) + "," + ys(d[1]).toFixed(1)).join(" "), fill: color, "fill-opacity": opacity, stroke: color, "stroke-opacity": opacity, "stroke-width": 5, "stroke-linejoin": "round"});
  
  
}
function drawPoints(g, pts, xs, ys, color, r, name) {
  pts.forEach(d => {
    const c = add(g, "circle", {cx: xs(d[0]).toFixed(1), cy: ys(d[1]).toFixed(1), r: r, fill: color});
    
    
  });
}
function drawCurve(g, pairs, xs, ys, color, width, opacity, name) {
  const p = add(g, "polyline", {points: pairs.map(d => xs(d[0]).toFixed(1) + "," + ys(d[1]).toFixed(1)).join(" "), fill: "none", stroke: color, "stroke-width": width, "stroke-opacity": opacity, "stroke-linejoin": "round", "stroke-linecap": "round"});
  
  
}
const zip = (xArr, yArr) => xArr.map((x, i) => [x, yArr[i]]);
const volcanoLen = s => s.length * 21.5;
const densityLen = s => 41;

/* ---------- Gene header ---------- */
geneNames.forEach((name, i) => {
  const lineX = 130 + i * (4188 / 83);
  const ln = add(G("geneGrid"), "line", {x1: lineX, x2: lineX, y1: 241, y2: 580, stroke: "#c8c8c8", "stroke-width": 3});
  
  
  const t = add(G("geneLabels"), "text", {transform: "translate(" + (lineX - 10).toFixed(1) + ",569) rotate(-90) scale(1.07,1)", "font-size": 52, fill: "#151515"});
  t.textContent = name;
  
  
});

/* ---------- Volcano panels ---------- */
(function () {
  const xs = linear(0, 1772, 96.25), ys = linear(0, 1556, -36.1), g = G("bMarks");
  drawCloud(g, bNsCloud, xs, ys, "#000", 1, "panel-b-not-significant-cloud");
  drawPoints(g, bNsPts, xs, ys, "#111", 3.5, "panel-b-not-significant-point");
  drawCloud(g, bDownHalo, xs, ys, "#00d8ff", 0.45, "panel-b-down-sparse-region");
  drawCloud(g, bUpHalo, xs, ys, "#ff1a1a", 0.45, "panel-b-up-sparse-region");
  drawCloud(g, bDownCloud, xs, ys, "#00d8ff", 1, "panel-b-down-cloud");
  drawCloud(g, bUpCloud, xs, ys, "#ff1a1a", 1, "panel-b-up-cloud");
  drawPoints(g, bDownPts, xs, ys, "#00d8ff", 7, "panel-b-down-point");
  drawPoints(g, bUpPts, xs, ys, "#ff1a1a", 7, "panel-b-up-point");
  drawAxes(G("bAxes"), xs, ys, {left: 1288, bottom: 1586}, bXTicks, bYTicks, null, 1667, 1241, 20, volcanoLen);
})();
(function () {
  const xs = linear(0, 2761, 119.5), ys = linear(0, 1552, -38.1), g = G("cMarks");
  drawCloud(g, cNsCloud, xs, ys, "#000", 1, "panel-c-not-significant-cloud");
  drawPoints(g, cNsPts, xs, ys, "#111", 3.5, "panel-c-not-significant-point");
  drawCloud(g, cDownHalo, xs, ys, "#00d8ff", 0.45, "panel-c-down-sparse-region");
  drawCloud(g, cUpHalo, xs, ys, "#ff1a1a", 0.45, "panel-c-up-sparse-region");
  drawCloud(g, cDownCloud, xs, ys, "#00d8ff", 1, "panel-c-down-cloud");
  drawCloud(g, cUpCloud, xs, ys, "#ff1a1a", 1, "panel-c-up-cloud");
  drawPoints(g, cDownPts, xs, ys, "#00d8ff", 7, "panel-c-down-point");
  drawPoints(g, cUpPts, xs, ys, "#ff1a1a", 7, "panel-c-up-point");
  drawAxes(G("cAxes"), xs, ys, {left: 2410, bottom: 1582}, cXTicks, cYTicks, null, 1665, 2369, 20, volcanoLen);
})();
(function () {
  const xs = linear(0, 3848, 86.8), ys = linear(0, 1543, -25.1), g = G("dMarks");
  drawCloud(g, dNsCloud, xs, ys, "#000", 1, "panel-d-not-significant-cloud");
  drawPoints(g, dNsPts, xs, ys, "#111", 3.5, "panel-d-not-significant-point");
  drawCloud(g, dDownHalo, xs, ys, "#00d8ff", 0.45, "panel-d-down-sparse-region");
  drawCloud(g, dUpHalo, xs, ys, "#ff1a1a", 0.45, "panel-d-up-sparse-region");
  drawCloud(g, dDownCloud, xs, ys, "#00d8ff", 1, "panel-d-down-cloud");
  drawCloud(g, dUpCloud, xs, ys, "#ff1a1a", 1, "panel-d-up-cloud");
  drawPoints(g, dDownPts, xs, ys, "#00d8ff", 7, "panel-d-down-point");
  drawPoints(g, dUpPts, xs, ys, "#ff1a1a", 7, "panel-d-up-point");
  drawAxes(G("dAxes"), xs, ys, {left: 3463, bottom: 1576}, dXTicks, dYTicks, null, 1655, 3420, 20, volcanoLen);
})();

/* ---------- Density panels ---------- */
(function () {
  const xs = linear(4, 1398, 72.6), ys = linear(0, 2617.6, -1370.4), g = G("eMarks");
  [eNormalA, eNormalB].forEach(s => drawCurve(g, zip(eX, s), xs, ys, "#00d8a0", 7, 1, "panel-e-normal-curve"));
  [eTumorA, eTumorB, eTumorC, eTumorD].forEach(s => drawCurve(g, zip(eX, s), xs, ys, "#1a1af0", 6.5, 0.92, "panel-e-tumor-curve"));
  drawAxes(G("eAxes"), xs, ys, {left: 1328, bottom: 2647}, eXTicks, eYTicks, eYLabels, 2722, 1281, 17, densityLen);
})();
(function () {
  const xs = linear(0, 2847, 44.9), ys = linear(0, 2617.6, -253.6), g = G("fMarks");
  drawCloud(g, fTumorMass, xs, ys, "#2a18f0", 0.9, "panel-f-tumor-mass");
  [fTumorA, fTumorB, fTumorC, fTumorD, fTumorE, fTumorF, fTumorG, fTumorH].forEach(s => drawCurve(g, s, xs, ys, "#2a18f0", 6.5, 0.9, "panel-f-tumor-curve"));
  drawCloud(g, fNormalMass, xs, ys, "#00cc8c", 0.95, "panel-f-normal-mass");
  [fNormalH, fNormalI, fNormalA, fNormalB, fNormalC, fNormalD, fNormalE, fNormalF, fNormalG, fNormalJ].forEach(s => drawCurve(g, s, xs, ys, "#00cc8c", 6.5, 0.95, "panel-f-normal-curve"));
  drawAxes(G("fAxes"), xs, ys, {left: 2415, bottom: 2646}, fXTicks, fYTicks, fYLabels, 2720, 2370, 17, densityLen);
})();
(function () {
  const xs = linear(4, 3578, 62), ys = linear(0, 2637, -1957.5), g = G("gMarks");
  drawCloud(g, gBand, xs, ys, "#1a5ae8", 0.6, "panel-g-curve-band");
  [gTumorA, gTumorB, gTumorC].forEach(s => drawCurve(g, zip(gX, s), xs, ys, "#2a18f0", 5.5, 0.9, "panel-g-tumor-curve"));
  [gNormalA, gNormalB, gNormalC].forEach(s => drawCurve(g, zip(gX, s), xs, ys, "#00d8a0", 5.5, 0.95, "panel-g-normal-curve"));
  [gTumorD, gTumorE, gTumorF, gTumorG].forEach(s => drawCurve(g, zip(gX, s), xs, ys, "#1a1af0", 5.5, 0.9, "panel-g-tumor-curve"));
  [gNormalD, gNormalE].forEach(s => drawCurve(g, zip(gX, s), xs, ys, "#00cc8c", 5.5, 0.9, "panel-g-normal-curve"));
  [gTumorH, gTumorI].forEach(s => drawCurve(g, zip(gX, s), xs, ys, "#1a40e8", 5.5, 0.85, "panel-g-tumor-curve"));
  drawAxes(G("gAxes"), xs, ys, {left: 3477, bottom: 2667}, gXTicks, gYTicks, gYLabels, 2745, 3432, 17, densityLen);
})();
</script>
</body>
</html>
